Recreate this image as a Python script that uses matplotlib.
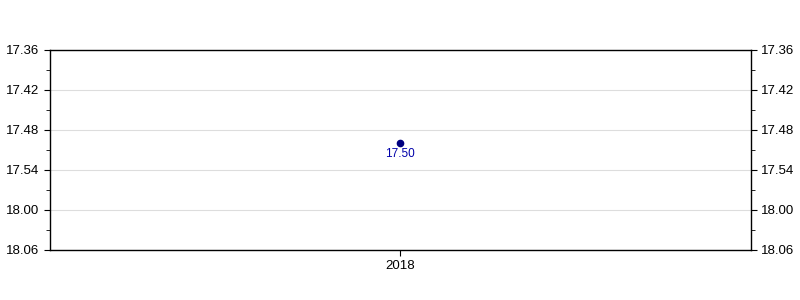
import matplotlib
matplotlib.use("Agg")
import matplotlib.pyplot as plt
import matplotlib.ticker as mtick

plt.rcParams["font.family"] = ["Liberation Sans", "DejaVu Sans"]

# data: race time as minutes.seconds
years = ["2018"]
times = ["17.50"]
y_min, y_max = "17.36", "18.06"


def to_sec(t):
    m, s = t.split(".")
    return int(m) * 60 + int(s)


def fmt(v, _):
    v = int(round(v))
    return f"{v // 60}.{v % 60:02d}"


secs = [to_sec(t) for t in times]
x = list(range(len(years)))

fig = plt.figure(figsize=(8, 3), dpi=100)
ax = fig.add_axes([0.0625, 1 - 250 / 300, 0.876, 200 / 300])

ax.plot(x, secs, "o", color="#000080", markersize=4.5, zorder=3)
for xi, s, t in zip(x, secs, times):
    ax.annotate(t, (xi, s), xytext=(0, -3.5), textcoords="offset points",
                ha="center", va="top", color="#0000aa", fontsize=8.5)

ax.set_xlim(-0.5, len(years) - 0.5)
ax.set_xticks(x)
ax.set_xticklabels(years)
ax.set_ylim(to_sec(y_max), to_sec(y_min))
ax.yaxis.set_major_locator(mtick.MultipleLocator(6))
ax.yaxis.set_minor_locator(mtick.MultipleLocator(3))
ax.yaxis.set_major_formatter(mtick.FuncFormatter(fmt))
ax.grid(axis="y", which="major", color="#dddddd", linewidth=0.8)
ax.set_axisbelow(True)

ax.tick_params(axis="y", which="both", left=True, right=True,
               labelleft=True, labelright=True, labelsize=9.5, length=4,
               direction="out")
ax.tick_params(axis="y", which="minor", length=3)
ax.tick_params(axis="x", labelsize=9.5, length=4)
for sp in ax.spines.values():
    sp.set_linewidth(1.0)

fig.savefig("out.png", dpi=100)
